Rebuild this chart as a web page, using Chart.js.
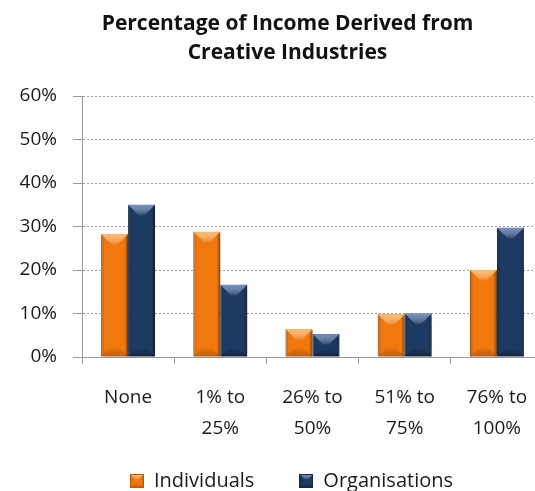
<!DOCTYPE html>
<html>
<head>
<meta charset="utf-8">
<script src="https://cdn.jsdelivr.net/npm/chart.js@4"></script>
<style>
  html, body { margin: 0; padding: 0; background: #fff; overflow: hidden; }
  #wrap { position: relative; width: 575px; height: 520px; }
</style>
</head>
<body>
<div id="wrap"><canvas id="myChart" width="575" height="520"></canvas></div>
<script>
// categories and shares of income from creative industries
const categories = ['None', ['1% to', '25%'], ['26% to', '50%'], ['51% to', '75%'], ['76% to', '100%']];
const individuals = [28.3, 28.8, 6.4, 9.8, 20.0];
const organisations = [35.0, 16.6, 5.3, 10.0, 29.7];
const yTicks = [0, 10, 20, 30, 40, 50, 60];

// base / light / dark tones used for the bevelled bar faces
const shades = [
  { base: '#f0780f', edge: '#b85808', light: 'rgba(255,190,105,0.95)', dark: 'rgba(130,55,0,0.35)' },
  { base: '#1d3a63', edge: '#122846', light: 'rgba(120,152,205,0.85)', dark: 'rgba(0,0,0,0.35)' },
];

function drawBevel(ctx, l, y, width, h, pal) {
  const r = l + width, base = y + h;
  const b = Math.min(width * 0.4, h / 2);
  // side facets
  ctx.fillStyle = 'rgba(0,0,0,0.10)';
  ctx.fillRect(l, y, Math.max(1, width * 0.1), h);
  ctx.fillStyle = 'rgba(0,0,0,0.22)';
  ctx.fillRect(r - Math.max(1, width * 0.1), y, Math.max(1, width * 0.1), h);
  // top facet
  const gTop = ctx.createLinearGradient(0, y, 0, y + b);
  gTop.addColorStop(0, pal.light);
  gTop.addColorStop(1, 'rgba(255,255,255,0.05)');
  ctx.fillStyle = gTop;
  ctx.beginPath();
  ctx.moveTo(l, y); ctx.lineTo(r, y); ctx.lineTo(r - b, y + b); ctx.lineTo(l + b, y + b);
  ctx.closePath(); ctx.fill();
  // bottom facet
  const bb = Math.min(b * 0.8, h / 2);
  const gBot = ctx.createLinearGradient(0, base, 0, base - bb);
  gBot.addColorStop(0, pal.dark);
  gBot.addColorStop(1, 'rgba(0,0,0,0)');
  ctx.fillStyle = gBot;
  ctx.beginPath();
  ctx.moveTo(l, base); ctx.lineTo(r, base); ctx.lineTo(r - bb, base - bb); ctx.lineTo(l + bb, base - bb);
  ctx.closePath(); ctx.fill();
}

// small bevelled squares for the legend
const markers = shades.map(pal => {
  const c = document.createElement('canvas');
  c.width = 14; c.height = 14;
  const g = c.getContext('2d');
  g.fillStyle = pal.base;
  g.fillRect(0, 0, 14, 14);
  drawBevel(g, 0, 0, 14, 14, pal);
  g.strokeStyle = pal.edge;
  g.lineWidth = 1;
  g.strokeRect(0.5, 0.5, 13, 13);
  return c;
});

const bevel = {
  id: 'bevel',
  beforeDatasetDraw(chart) {
    const ctx = chart.ctx;
    ctx.save();
    ctx.shadowColor = 'rgba(0,0,0,0.35)';
    ctx.shadowBlur = 4;
    ctx.shadowOffsetX = 2;
    ctx.shadowOffsetY = 1;
  },
  afterDatasetDraw(chart) {
    chart.ctx.restore();
  },
  afterDatasetsDraw(chart) {
    const ctx = chart.ctx;
    chart.data.datasets.forEach((ds, i) => {
      const meta = chart.getDatasetMeta(i);
      meta.data.forEach(bar => {
        const { x, y, base, width } = bar.getProps(['x', 'y', 'base', 'width'], true);
        ctx.save();
        drawBevel(ctx, x - width / 2, y, width, base - y, shades[i]);
        ctx.restore();
      });
    });
  }
};

// title and legend sit a little right of the plot centre, legend slightly higher
const nudge = {
  id: 'nudge',
  afterLayout(chart) {
    const t = chart.titleBlock, lg = chart.legend;
    t.left += 16; t.right += 16;
    lg.left += 20; lg.right += 20;
    lg.top -= 19; lg.bottom -= 19;
  }
};

Chart.defaults.font.family = '"Open Sans", sans-serif';
Chart.defaults.color = '#1a1a1a';

const ctx = document.getElementById('myChart');
new Chart(ctx, {
  type: 'bar',
  data: {
    labels: categories,
    datasets: [
      {
        label: 'Individuals',
        data: individuals,
        backgroundColor: shades[0].base,
        borderColor: shades[0].edge,
        borderWidth: 1,
        categoryPercentage: 0.585,
        barPercentage: 1.0,
      },
      {
        label: 'Organisations',
        data: organisations,
        backgroundColor: shades[1].base,
        borderColor: shades[1].edge,
        borderWidth: 1,
        categoryPercentage: 0.585,
        barPercentage: 1.0,
      },
    ],
  },
  plugins: [bevel, nudge],
  options: {
    responsive: false,
    animation: false,
    layout: { padding: { left: 0, right: 32, top: 0, bottom: 0 } },
    scales: {
      x: {
        grid: {
          drawOnChartArea: false,
          tickLength: 7,
          tickColor: '#999',
        },
        border: { color: '#999', width: 1 },
        ticks: {
          padding: 18,
          font: { size: 19, lineHeight: '31px' },
          color: '#1a1a1a',
          maxRotation: 0,
          autoSkip: false,
        },
        afterFit: scale => { scale.height = 88; },
      },
      y: {
        min: 0,
        max: 60,
        afterBuildTicks: scale => { scale.ticks = yTicks.map(v => ({ value: v })); },
        grid: {
          color: '#a0a0a0',
          tickColor: '#999',
          tickLength: 9,
        },
        border: { color: '#999', width: 1, dash: [2, 2] },
        ticks: {
          padding: 16,
          font: { size: 19 },
          color: '#1a1a1a',
          callback: v => v + '%',
        },
        afterFit: scale => { scale.width = 82; },
      },
    },
    plugins: {
      title: {
        display: true,
        text: ['Percentage of Income Derived from', 'Creative Industries'],
        font: { size: 21, weight: 'bold', lineHeight: '29px' },
        color: '#111',
        padding: { top: 10, bottom: 28 },
      },
      legend: {
        position: 'bottom',
        labels: {
          usePointStyle: true,
          boxWidth: 14,
          boxHeight: 14,
          padding: 45,
          font: { size: 20 },
          color: '#1a1a1a',
          generateLabels: chart =>
            Chart.defaults.plugins.legend.labels.generateLabels(chart)
              .map((item, i) => Object.assign(item, { pointStyle: markers[i] })),
        },
      },
      tooltip: { enabled: false },
    },
  },
});
</script>
</body>
</html>
